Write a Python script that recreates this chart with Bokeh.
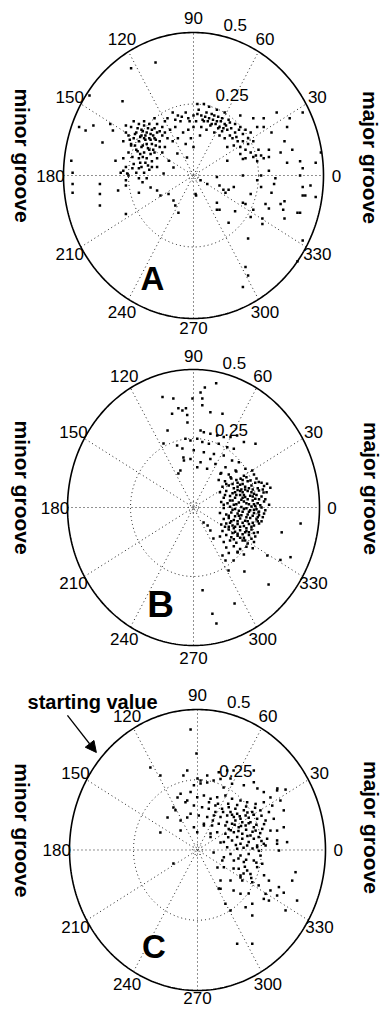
import numpy as np
from bokeh.plotting import figure
from bokeh.models import Range1d, Arrow, NormalHead
from bokeh.layouts import column
from bokeh.embed import file_html
from bokeh.resources import INLINE
from bokeh.core.properties import value

# ---------------- data ----------------
THETA_TICKS = [0, 30, 60, 90, 120, 150, 180, 210, 240, 270, 300, 330]
R_MAX = 0.5
R_TICKS = [0.25, 0.5]
R_TICK_LABELS = ["0.25", "0.5"]
PANEL_LETTERS = ["A", "B", "C"]
LEFT_LABEL = "minor groove"
RIGHT_LABEL = "major groove"
ANNOT_TEXT = "starting value"

# (x, y) components of each sample, in the polar plot's radial units
A_points = [
    (-0.22, 0.15), (-0.20, 0.16), (-0.18, 0.15), (-0.16, 0.16), (-0.14, 0.15), (-0.19, 0.13), (-0.17, 0.13), (-0.15, 0.13),
    (-0.21, 0.12), (-0.23, 0.13), (-0.20, 0.10), (-0.18, 0.11), (-0.16, 0.11), (-0.13, 0.12), (-0.12, 0.14), (-0.22, 0.09),
    (-0.19, 0.08), (-0.17, 0.09), (-0.15, 0.08), (-0.24, 0.11), (-0.25, 0.08), (-0.21, 0.06), (-0.18, 0.06), (-0.16, 0.05),
    (-0.23, 0.04), (-0.20, 0.03), (-0.17, 0.02), (-0.19, 0.01), (-0.22, 0.01), (-0.26, 0.03), (-0.27, 0.06), (-0.24, 0.17),
    (-0.21, 0.18), (-0.17, 0.18), (-0.14, 0.18), (-0.12, 0.17), (-0.11, 0.15), (-0.10, 0.13), (-0.13, 0.10), (-0.14, 0.06),
    (-0.12, 0.08), (-0.19, 0.19), (-0.23, 0.19), (-0.26, 0.15), (-0.27, 0.12), (-0.25, 0.14), (-0.15, 0.20), (-0.11, 0.19),
    (-0.16, 0.03), (-0.14, 0.03), (-0.18, -0.01), (-0.21, -0.01), (-0.25, 0.00), (-0.28, 0.01), (-0.20, 0.14), (-0.175, 0.165),
    (-0.155, 0.14), (-0.195, 0.105), (-0.165, 0.075), (-0.205, 0.075), (-0.225, 0.105), (-0.145, 0.105), (-0.185, 0.045),
    (-0.235, 0.065), (-0.215, 0.165),
    (-0.205, 0.135), (-0.185, 0.125), (-0.165, 0.145), (-0.145, 0.125), (-0.195, 0.155), (-0.225, 0.145), (-0.175, 0.095),
    (-0.155, 0.09), (-0.215, 0.085), (-0.195, 0.065), (-0.175, 0.035), (-0.205, 0.045), (-0.235, 0.025), (-0.15, 0.165),
    (-0.13, 0.155), (-0.245, 0.125), (-0.19, 0.175), (-0.21, 0.025), (-0.165, 0.125), (-0.185, 0.14),
    (-0.10, 0.20), (-0.08, 0.22), (-0.06, 0.21), (-0.05, 0.19), (-0.03, 0.22), (-0.02, 0.20), (0.00, 0.21), (0.01, 0.19),
    (0.02, 0.23), (0.03, 0.21), (0.04, 0.19), (0.05, 0.22), (0.06, 0.20), (0.07, 0.18), (0.08, 0.21), (0.09, 0.19),
    (0.10, 0.17), (0.11, 0.20), (0.12, 0.18), (0.13, 0.16), (0.14, 0.14), (0.15, 0.13), (0.16, 0.15), (0.17, 0.12),
    (0.18, 0.10), (0.19, 0.12), (0.20, 0.09), (0.21, 0.11), (0.22, 0.08), (0.24, 0.07), (0.25, 0.09), (0.27, 0.06),
    (0.23, 0.12), (0.08, 0.15), (0.05, 0.16), (0.03, 0.17), (0.00, 0.17), (-0.02, 0.16), (-0.04, 0.15), (-0.07, 0.17),
    (-0.09, 0.16), (0.06, 0.24), (0.09, 0.23), (0.12, 0.22), (0.04, 0.25), (0.015, 0.25), (0.10, 0.14), (0.12, 0.13),
    (0.135, 0.195), (0.075, 0.195), (0.045, 0.205), (0.095, 0.205), (0.065, 0.175), (0.115, 0.165), (0.155, 0.105),
    (0.18, 0.075), (0.20, 0.06), (0.13, 0.10), (0.025, 0.14), (-0.01, 0.13), (-0.03, 0.11), (-0.06, 0.13), (-0.08, 0.12),
    (0.16, 0.18), (0.18, 0.17), (0.20, 0.16), (0.22, 0.15),
    (0.055, 0.19), (0.085, 0.18), (0.105, 0.19), (0.125, 0.175), (0.145, 0.165), (0.07, 0.215), (0.035, 0.195),
    (0.015, 0.215), (-0.015, 0.19), (0.11, 0.155), (0.14, 0.185), (0.165, 0.135), (0.19, 0.145), (0.21, 0.13),
    (0.175, 0.16), (-0.045, 0.205), (-0.07, 0.195), (0.095, 0.165),
    (0.32, 0.22), (0.37, 0.20), (0.42, 0.22), (0.36, 0.17), (0.30, 0.15), (0.35, 0.12), (0.335, 0.08), (0.38, 0.09),
    (0.36, 0.045), (0.41, 0.05), (0.42, 0.025), (0.47, 0.045), (0.41, 0.0), (0.315, -0.01), (0.26, 0.0), (0.245, -0.017),
    (0.29, 0.017), (0.19, 0.0), (0.42, -0.04), (0.42, -0.07), (0.47, -0.075), (0.335, -0.10), (0.30, -0.06), (0.26, -0.04),
    (0.115, -0.05), (0.135, -0.05), (0.01, -0.07), (0.10, -0.12), (0.23, -0.12), (0.22, -0.145), (0.265, -0.15),
    (0.345, -0.12), (0.29, -0.115), (0.245, 0.05), (0.29, 0.065), (0.23, 0.065), (0.26, 0.07), (0.29, 0.09), (0.27, 0.17),
    (0.49, 0.08), (0.35, -0.09), (0.40, -0.13), (0.35, -0.15), (0.45, -0.035), (0.21, -0.22), (0.20, -0.32), (0.21, -0.35),
    (0.19, -0.39), (0.42, -0.227), (0.135, -0.165), (0.09, -0.12), (0.16, -0.125), (0.20, -0.10), (0.265, -0.17),
    (0.41, -0.13), (0.40, -0.30), (0.43, -0.07), (0.31, -0.03), (0.277, -0.10), (0.22, -0.065), (0.19, -0.095),
    (0.123, -0.06), (0.09, -0.095), (0.008, -0.065),
    (-0.096, -0.065), (-0.077, -0.087), (-0.07, -0.105), (-0.058, -0.13), (-0.14, -0.052), (-0.127, -0.07), (-0.21, -0.06),
    (-0.26, -0.135), (-0.36, -0.105), (-0.36, -0.065), (-0.465, -0.06), (-0.465, -0.03), (-0.29, -0.052),
    (-0.273, 0.26), (-0.40, 0.28), (-0.44, 0.17), (-0.415, 0.157), (-0.385, 0.175), (-0.35, 0.115), (-0.47, 0.052),
    (-0.465, 0.01), (-0.36, -0.03), (-0.30, 0.052), (-0.32, 0.18), (-0.31, 0.157), (-0.26, 0.175), (-0.24, 0.105),
    (-0.27, 0.017), (-0.255, 0.007), (-0.26, -0.017), (-0.26, -0.035), (-0.196, -0.024), (-0.165, -0.042),
    (-0.146, 0.395), (-0.24, 0.375),
    (0.23, 0.20), (0.27, 0.20), (0.245, 0.17), (0.18, 0.21),
    (0.027, -0.017), (0.053, -0.03), (0.09, -0.005), (0.13, 0.052), (0.19, 0.058), (0.10, -0.035), (0.155, -0.04),
    (0.0, 0.10), (-0.025, 0.063), (-0.062, 0.077), (-0.11, 0.10), (-0.095, 0.052), (-0.115, 0.007), (-0.077, 0.028),
]

B_points = [
    (0.09, 0.45), (0.045, 0.435), (0.028, 0.417), (0.035, 0.395), (-0.004, 0.395), (-0.08, 0.395), (-0.03, 0.36),
    (-0.06, 0.36), (-0.025, 0.335), (0.067, 0.345), (0.115, 0.34), (-0.085, 0.34), (0.035, 0.37), (-0.123, 0.40),
    (-0.044, 0.351), (-0.024, 0.308), (-0.119, 0.232), (-0.103, 0.279), (-0.044, 0.214), (-0.04, 0.181), (-0.06, 0.123),
    (0.028, 0.279),
    (0.041, 0.273), (0.067, 0.267), (0.094, 0.261), (0.12, 0.255), (0.147, 0.255), (0.173, 0.261), (0.2, 0.237),
    (0.246, 0.231), (0.015, 0.249), (-0.012, 0.243), (0.035, 0.237), (0.061, 0.231), (0.1, 0.231), (0.134, 0.218),
    (0.16, 0.213), (0.001, 0.207), (0.041, 0.2), (0.081, 0.194), (0.12, 0.188), (0.153, 0.17), (0.18, 0.164),
    (0.067, 0.176), (0.028, 0.164), (-0.012, 0.176), (-0.038, 0.17), (-0.065, 0.225), (-0.032, 0.249), (0.087, 0.158),
    (0.127, 0.146), (0.167, 0.134), (0.206, 0.14), (0.233, 0.134), (0.107, 0.122), (0.147, 0.11), (0.187, 0.104),
    (0.226, 0.098), (0.259, 0.092), (0.292, 0.086), (-0.052, 0.134), (0.015, 0.146), (0.054, 0.14),
    (0.11, 0.125), (0.14, 0.12), (0.17, 0.13), (0.20, 0.115), (0.24, 0.12),
    (0.10, 0.10), (0.125, 0.095), (0.15, 0.105), (0.175, 0.09), (0.195, 0.10), (0.215, 0.095), (0.25, 0.105), (0.27, 0.09),
    (0.115, 0.075), (0.14, 0.08), (0.16, 0.07), (0.185, 0.082), (0.205, 0.075), (0.23, 0.08), (0.255, 0.07), (0.28, 0.078),
    (0.105, 0.055), (0.13, 0.06), (0.155, 0.052), (0.175, 0.063), (0.195, 0.055), (0.215, 0.06), (0.24, 0.05),
    (0.26, 0.062), (0.29, 0.055),
    (0.12, 0.035), (0.145, 0.042), (0.165, 0.035), (0.185, 0.045), (0.205, 0.038), (0.225, 0.043), (0.245, 0.032),
    (0.27, 0.04),
    (0.11, 0.02), (0.135, 0.015), (0.155, 0.025), (0.18, 0.018), (0.2, 0.022), (0.22, 0.012), (0.235, 0.025),
    (0.255, 0.015), (0.28, 0.022), (0.3, 0.01),
    (0.12, -0.002), (0.145, 0.003), (0.165, -0.005), (0.19, 0.002), (0.21, -0.003), (0.23, 0.004), (0.25, -0.006),
    (0.27, 0.0), (0.285, -0.01),
    (0.105, -0.02), (0.13, -0.025), (0.15, -0.018), (0.175, -0.022), (0.195, -0.015), (0.215, -0.025), (0.24, -0.02),
    (0.26, -0.028), (0.28, -0.022),
    (0.12, -0.042), (0.14, -0.038), (0.16, -0.045), (0.185, -0.04), (0.205, -0.048), (0.225, -0.038), (0.25, -0.043),
    (0.27, -0.05),
    (0.11, -0.062), (0.13, -0.058), (0.155, -0.065), (0.175, -0.06), (0.2, -0.067), (0.22, -0.06), (0.24, -0.065),
    (0.26, -0.058),
    (0.115, -0.085), (0.14, -0.08), (0.165, -0.088), (0.185, -0.082), (0.21, -0.085), (0.23, -0.08), (0.255, -0.09),
    (0.105, -0.105), (0.13, -0.1), (0.15, -0.108), (0.175, -0.102), (0.2, -0.11), (0.22, -0.1), (0.245, -0.105),
    (0.12, -0.125), (0.145, -0.12), (0.17, -0.128), (0.195, -0.12), (0.215, -0.13), (0.24, -0.125),
    (0.13, -0.145), (0.16, -0.14), (0.185, -0.15), (0.21, -0.142), (0.235, -0.148),
    (0.14, -0.165), (0.175, -0.16), (0.2, -0.17),
    (0.16, 0.01), (0.2, 0.045), (0.225, -0.01), (0.18, -0.03), (0.19, 0.065), (0.235, 0.065), (0.165, -0.07),
    (0.205, -0.09), (0.245, 0.005), (0.17, 0.1), (0.21, 0.11), (0.145, -0.055),
    (0.155, 0.085), (0.175, 0.075), (0.195, 0.085), (0.22, 0.07), (0.245, 0.09), (0.165, 0.055), (0.185, 0.06),
    (0.205, 0.065), (0.23, 0.055), (0.25, 0.045), (0.17, 0.045), (0.195, 0.035), (0.215, 0.03), (0.235, 0.04),
    (0.26, 0.03), (0.145, 0.025), (0.17, 0.012), (0.19, 0.028), (0.21, 0.015), (0.24, 0.012), (0.265, 0.008),
    (0.155, -0.008), (0.18, -0.012), (0.2, -0.005), (0.22, -0.015), (0.24, -0.008), (0.26, -0.015), (0.14, -0.03),
    (0.165, -0.032), (0.19, -0.028), (0.21, -0.035), (0.235, -0.03), (0.255, -0.035), (0.15, -0.05), (0.175, -0.05),
    (0.195, -0.055), (0.215, -0.05), (0.235, -0.055), (0.255, -0.05), (0.14, -0.07), (0.16, -0.075), (0.185, -0.07),
    (0.21, -0.075), (0.23, -0.07), (0.155, -0.092), (0.175, -0.095), (0.195, -0.097), (0.22, -0.09), (0.24, -0.092),
    (0.16, -0.115), (0.185, -0.11), (0.205, -0.12), (0.23, -0.113), (0.275, 0.065), (0.285, 0.03), (0.275, -0.035),
    (0.125, 0.045), (0.12, 0.01), (0.125, -0.07), (0.13, 0.085),
    (0.425, -0.058), (0.35, -0.09), (0.385, -0.18), (0.345, -0.19), (0.293, -0.174), (0.298, -0.279), (0.202, -0.232),
    (0.163, -0.348), (0.075, -0.385), (0.091, -0.42), (0.036, -0.30), (0.139, -0.228), (0.127, -0.192), (0.115, -0.174),
    (0.159, -0.192), (0.175, -0.163), (0.079, -0.112), (0.067, -0.083), (0.056, -0.065), (0.04, -0.054), (0.258, -0.018),
    (0.305, 0.072), (0.278, 0.054),
]

C_points = [
    (-0.004, 0.343), (-0.04, 0.283), (0.083, 0.277), (0.116, 0.283), (0.135, 0.236), (0.181, 0.23), (0.22, 0.241),
    (0.09, 0.253), (0.038, 0.265), (0.012, 0.247), (-0.014, 0.23), (0.22, 0.283),
    (-0.066, 0.2), (-0.027, 0.206), (-0.001, 0.188), (0.025, 0.194), (0.051, 0.182), (0.077, 0.188), (0.109, 0.194),
    (0.135, 0.182), (0.168, 0.176), (0.194, 0.17), (0.227, 0.164), (0.259, 0.17), (0.292, 0.158), (0.324, 0.176),
    (0.311, 0.212), (0.259, 0.206), (-0.047, 0.17), (-0.014, 0.158), (0.018, 0.152), (0.044, 0.147), (0.07, 0.158),
    (0.096, 0.147), (0.122, 0.152), (0.148, 0.147), (0.181, 0.141), (0.214, 0.135), (0.246, 0.141), (0.279, 0.135),
    (-0.027, 0.129), (0.005, 0.123), (0.038, 0.117), (0.064, 0.123), (0.09, 0.117), (0.116, 0.123), (0.142, 0.117),
    (0.168, 0.111), (0.2, 0.115), (0.233, 0.111), (0.266, 0.105), (0.298, 0.111), (-0.066, 0.105), (-0.086, 0.141),
    (0.025, 0.093), (0.057, 0.087), (0.083, 0.093), (0.109, 0.087), (0.135, 0.093), (0.161, 0.081), (0.188, 0.087),
    (0.22, 0.081), (0.253, 0.075), (0.285, 0.069), (0.077, 0.063), (0.109, 0.058), (0.142, 0.063), (0.175, 0.058),
    (0.207, 0.052), (0.239, 0.046), (0.272, 0.04), (0.051, 0.046), (0.103, 0.028), (0.135, 0.034), (0.168, 0.022),
    (0.2, 0.028), (0.233, 0.016), (0.259, 0.022), (0.311, 0.034), (0.337, 0.081), (0.337, 0.141), (0.311, 0.069),
    (-0.066, 0.069), (-0.014, 0.081), (-0.001, 0.063),
    (0.155, 0.129), (0.188, 0.123), (0.129, 0.135), (0.175, 0.099), (0.148, 0.105), (0.207, 0.099), (0.227, 0.069),
    (0.155, 0.046), (0.122, 0.075),
    (0.12, 0.165), (0.155, 0.16), (0.19, 0.155), (0.225, 0.15), (0.1, 0.135), (0.135, 0.125), (0.165, 0.12),
    (0.195, 0.133), (0.22, 0.125), (0.25, 0.122), (0.115, 0.1), (0.145, 0.09), (0.17, 0.085), (0.2, 0.095), (0.23, 0.09),
    (0.26, 0.092), (0.13, 0.07), (0.16, 0.068), (0.19, 0.072), (0.215, 0.065), (0.245, 0.06), (0.12, 0.045),
    (0.175, 0.04), (0.195, 0.05), (0.22, 0.04), (0.25, 0.032), (0.15, 0.018), (0.18, 0.008), (0.215, 0.005),
    (0.24, -0.003), (0.16, -0.03), (0.19, -0.035), (0.23, -0.045), (0.185, -0.06), (0.21, -0.1), (0.26, -0.09),
    (0.045, 0.17), (0.07, 0.135), (0.06, 0.105), (0.08, 0.165),
    (0.116, 0.01), (0.155, 0.004), (0.194, 0.016), (0.233, 0.01), (0.266, 0.016), (0.311, 0.022), (0.318, -0.002),
    (0.35, 0.028), (0.129, -0.014), (0.168, -0.02), (0.2, -0.014), (0.246, -0.02), (0.142, -0.037), (0.181, -0.043),
    (0.22, -0.037), (0.253, -0.049), (0.103, -0.061), (0.161, -0.067), (0.194, -0.073), (0.233, -0.061), (0.168, -0.091),
    (0.207, -0.085), (0.175, -0.109), (0.214, -0.115), (0.239, -0.126), (0.279, -0.109), (0.285, -0.144), (0.266, -0.156),
    (0.318, -0.132), (0.311, -0.162), (0.279, -0.18), (0.259, -0.174), (0.383, -0.079), (0.37, -0.109), (0.389, -0.18),
    (0.344, -0.215), (0.09, -0.138), (0.168, -0.156), (0.214, -0.191), (0.188, -0.204), (0.109, -0.191), (0.129, -0.215),
    (0.214, -0.233), (0.155, -0.334), (0.214, -0.334), (0.103, -0.026),
    (0.337, -0.152), (0.312, 0.219), (0.344, 0.215), (0.234, 0.219), (0.285, 0.187), (0.083, -0.137), (0.141, -0.144),
    (0.2, -0.155),
    (-0.027, 0.429), (0.0, 0.254), (-0.184, 0.294), (-0.145, 0.265), (-0.055, 0.265), (0.012, 0.237), (0.038, 0.24),
    (0.063, 0.247), (0.102, 0.222), (0.129, 0.254), (0.141, 0.283),
    (-0.078, 0.187), (-0.04, 0.176), (-0.117, 0.116), (-0.04, 0.116), (-0.094, 0.151), (-0.145, 0.062), (0.025, 0.087),
    (0.051, 0.059), (0.09, 0.027), (0.063, -0.009), (0.097, -0.037), (0.078, -0.062), (0.141, -0.066), (0.168, -0.098),
    (0.18, -0.084), (0.129, -0.109), (0.09, -0.109), (-0.094, -0.048),
]

# ------------- layout (placement of the three panels on the page) -------------
PAGE_W = 383
PANELS = [
    dict(points=A_points, letter="A", h=341, xr=(-0.7423, 0.7308), yr=(-0.5804, 0.6119),
         letter_xy=(-0.158, -0.36), letter_size="33px", left_xy=(-0.658, 0.07), right_xy=(0.681, 0.063),
         label_r=[0.55] * 9 + [0.534] + [0.55] * 2),
    dict(points=B_points, letter="B", h=332, xr=(-0.7659, 0.754), yr=(-0.6014, 0.6014),
         letter_xy=(-0.131, -0.351), letter_size="37px", left_xy=(-0.679, 0.072), right_xy=(0.706, 0.069),
         label_r=[0.55] * 9 + [0.545] + [0.55] * 2),
    dict(points=C_points, letter="C", h=340, xr=(-0.7695, 0.7266), yr=(-0.5819, 0.6281),
         letter_xy=(-0.17, -0.343), letter_size="33px", left_xy=(-0.684, 0.07), right_xy=(0.68, 0.08),
         label_r=[0.55] * 9 + [0.528] + [0.55] * 2),
]
ANNOT_TEXT_XY = (-0.41, 0.528)
ANNOT_ARROW = (-0.508, 0.479, -0.395, 0.347)

FONT = value("Liberation Sans")
DOT = dict(line_color="#222222", line_width=1, line_dash="1 3")


def make_panel(cfg, with_annot=False):
    p = figure(width=PAGE_W, height=cfg["h"], x_range=Range1d(*cfg["xr"]), y_range=Range1d(*cfg["yr"]),
               output_backend="svg", toolbar_location=None, min_border=0)
    p.axis.visible = False
    p.grid.visible = False
    p.outline_line_color = None
    p.background_fill_color = "white"
    p.border_fill_color = "white"

    # spokes every 30 degrees
    for t in THETA_TICKS[:6]:
        a = np.deg2rad(t)
        p.line([-R_MAX * np.cos(a), R_MAX * np.cos(a)], [-R_MAX * np.sin(a), R_MAX * np.sin(a)], **DOT)
    tt = np.linspace(0, 2 * np.pi, 361)
    for r in [0.02, R_TICKS[0]]:
        p.line(r * np.cos(tt), r * np.sin(tt), **DOT)
    p.line(R_MAX * np.cos(tt), R_MAX * np.sin(tt), line_color="black", line_width=1.6)

    xs = [pt[0] for pt in cfg["points"]]
    ys = [pt[1] for pt in cfg["points"]]
    p.scatter(xs, ys, marker="square", size=2.5, fill_color="black", line_color=None)

    # angle labels
    ang = np.deg2rad(THETA_TICKS)
    lr = np.array(cfg["label_r"])
    p.text(x=list(lr * np.cos(ang)), y=list(lr * np.sin(ang)),
           text=[str(t) for t in THETA_TICKS], text_font=FONT, text_font_size="17px",
           text_align="center", text_baseline="middle", text_color="black")
    # radial labels
    p.text(x=[0.085, 0.115], y=[0.28, 0.525], text=R_TICK_LABELS, text_font=FONT, text_font_size="17px",
           text_align="left", text_baseline="alphabetic", text_color="black")

    # letter
    p.text(x=[cfg["letter_xy"][0]], y=[cfg["letter_xy"][1]], text=[cfg["letter"]], text_font=FONT,
           text_font_size=cfg["letter_size"], text_font_style="bold", text_align="center",
           text_baseline="middle", text_color="black")
    # groove labels
    p.text(x=[cfg["left_xy"][0]], y=[cfg["left_xy"][1]], text=[LEFT_LABEL], angle=-np.pi / 2, text_font=FONT,
           text_font_size="21px", text_font_style="bold", text_align="center", text_baseline="middle")
    p.text(x=[cfg["right_xy"][0]], y=[cfg["right_xy"][1]], text=[RIGHT_LABEL], angle=-np.pi / 2, text_font=FONT,
           text_font_size="21px", text_font_style="bold", text_align="center", text_baseline="middle")

    if with_annot:
        p.text(x=[ANNOT_TEXT_XY[0]], y=[ANNOT_TEXT_XY[1]], text=[ANNOT_TEXT], text_font=FONT,
               text_font_size="20px", text_font_style="bold", text_align="center", text_baseline="alphabetic")
        x0, y0, x1, y1 = ANNOT_ARROW
        p.add_layout(Arrow(end=NormalHead(size=11, fill_color="black", line_color="black"),
                           x_start=x0, y_start=y0, x_end=x1, y_end=y1, line_width=1.3, line_color="black"))
    return p


figs = [make_panel(PANELS[0]), make_panel(PANELS[1]), make_panel(PANELS[2], with_annot=True)]
layout = column(*figs, spacing=0)
open("out.html", "w").write(file_html(layout, INLINE))
